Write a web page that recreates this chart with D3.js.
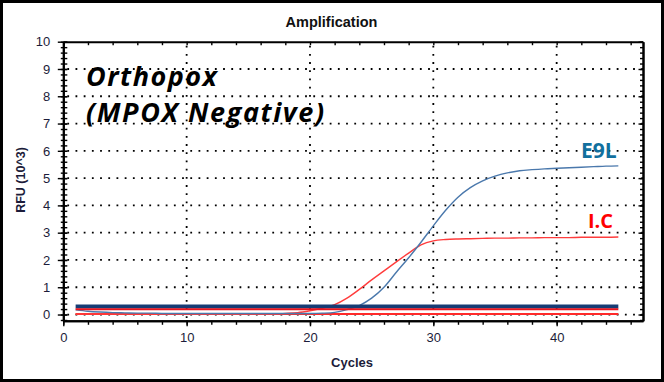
<!DOCTYPE html>
<html>
<head>
<meta charset="utf-8">
<script src="https://cdn.jsdelivr.net/npm/d3@7"></script>
<style>
  html, body { margin: 0; padding: 0; background: #fff; }
  svg { display: block; }
</style>
</head>
<body>
<svg id="chart" width="664" height="382"></svg>
<script>
// ---------------- DATA ----------------
const cycles = [1,2,3,4,5,6,7,8,9,10,11,12,13,14,15,16,17,18,19,20,21,22,23,24,25,26,27,28,29,30,31,32,33,34,35,36,37,38,39,40,41,42,43,44,45];

// E9L (blue amplification curve), RFU x10^3
const e9lValues = [0.17,0.12,0.09,0.07,0.06,0.05,0.05,0.04,0.04,0.04,
                   0.04,0.04,0.04,0.04,0.04,0.04,0.04,0.04,0.04,0.04,
                   0.05,0.08,0.18,0.33,0.60,1.00,1.55,2.08,2.65,3.25,
                   3.82,4.30,4.65,4.90,5.07,5.19,5.27,5.31,5.34,5.36,
                   5.38,5.40,5.42,5.44,5.45];

// I.C (red internal control curve)
const icValues = [0.02,0.02,0.02,0.02,0.02,0.02,0.02,0.02,0.02,0.02,
                  0.02,0.02,0.02,0.02,0.02,0.02,0.02,0.04,0.07,0.14,
                  0.23,0.36,0.60,0.92,1.27,1.60,1.93,2.25,2.55,2.70,
                  2.75,2.77,2.78,2.79,2.80,2.80,2.81,2.81,2.82,2.82,
                  2.82,2.83,2.83,2.83,2.84];

// flat baseline / threshold traces
const navyFlat = [0.29,0.29,0.29,0.29,0.29,0.29,0.29,0.29,0.29,0.29,0.29,0.29,0.29,0.29,0.29,
                  0.29,0.29,0.29,0.29,0.29,0.29,0.29,0.29,0.29,0.29,0.29,0.29,0.29,0.29,0.29,
                  0.29,0.29,0.29,0.29,0.29,0.29,0.29,0.29,0.29,0.29,0.29,0.29,0.29,0.29,0.29];
const redFlatHigh = [0.19,0.19,0.19,0.19,0.19,0.19,0.19,0.19,0.19,0.19,0.19,0.19,0.19,0.19,0.19,
                     0.19,0.19,0.19,0.19,0.19,0.19,0.19,0.19,0.19,0.19,0.19,0.19,0.19,0.19,0.19,
                     0.19,0.19,0.19,0.19,0.19,0.19,0.19,0.19,0.19,0.19,0.19,0.19,0.19,0.19,0.19];
const redFlatLow = [0.02,0.02,0.02,0.02,0.02,0.02,0.02,0.02,0.02,0.02,0.02,0.02,0.02,0.02,0.02,
                    0.02,0.02,0.02,0.02,0.02,0.02,0.02,0.02,0.02,0.02,0.02,0.02,0.02,0.02,0.02,
                    0.02,0.02,0.02,0.02,0.02,0.02,0.02,0.02,0.02,0.02,0.02,0.02,0.02,0.02,0.02];

const xMajorTicks = [0,10,20,30,40];
const xMinorTicks = [0,2,4,6,8,10,12,14,16,18,20,22,24,26,28,30,32,34,36,38,40,42,44,46];
const yMajorTicks = [0,1,2,3,4,5,6,7,8,9,10];
const yMinorTicks = [-0.2,0,0.2,0.4,0.6,0.8,1,1.2,1.4,1.6,1.8,2,2.2,2.4,2.6,2.8,3,3.2,3.4,3.6,3.8,4,4.2,4.4,4.6,4.8,5,5.2,5.4,5.6,5.8,6,6.2,6.4,6.6,6.8,7,7.2,7.4,7.6,7.8,8,8.2,8.4,8.6,8.8,9,9.2,9.4,9.6,9.8,10];
const xGrid = [10,20,30,40];
const yGrid = [0,1,2,3,4,5,6,7,8,9];

const titleText = "Amplification";
const xLabel = "Cycles";
const yLabel = "RFU (10^3)";
const noteLine1 = "Orthopox";
const noteLine2 = "(MPOX Negative)";
const e9lLabel = "E9L";
const icLabel = "I.C";

// ---------------- LAYOUT ----------------
const W = 664, H = 382;
const svg = d3.select("#chart");
const x = d3.scaleLinear().domain([0, 47]).range([63.3, 643]);
const y = d3.scaleLinear().domain([-0.23, 10]).range([320.8, 41.7]);
const tickColor = "#000";
const textColor = "#1c1c3a";

svg.append("rect").attr("x", 0).attr("y", 0).attr("width", W).attr("height", H).attr("fill", "#fff");

// grid
const grid = svg.append("g");
grid.selectAll("line.h").data(yGrid).join("line")
  .attr("x1", x(0) + 4).attr("x2", x(47))
  .attr("y1", d => y(d)).attr("y2", d => y(d))
  .attr("stroke", "#000").attr("stroke-width", 1.8).attr("stroke-dasharray", "1.8,6.4");
grid.selectAll("line.v").data(xGrid).join("line")
  .attr("x1", d => x(d)).attr("x2", d => x(d))
  .attr("y1", y(10) + 4).attr("y2", y(-0.23))
  .attr("stroke", "#000").attr("stroke-width", 1.8).attr("stroke-dasharray", "1.8,6.4");

// curves
const line = d3.line().x(d => x(d[0])).y(d => y(d[1])).curve(d3.curveMonotoneX);
const pairs = vals => cycles.map((c, i) => [c, vals[i]]);

svg.append("path").attr("d", line(pairs(redFlatLow)))
  .attr("fill", "none").attr("stroke", "#ff2a2a").attr("stroke-width", 1.8);
svg.append("path").attr("d", line(pairs(icValues)))
  .attr("fill", "none").attr("stroke", "#ff3c3c").attr("stroke-width", 1.4);
svg.append("path").attr("d", line(pairs(e9lValues)))
  .attr("fill", "none").attr("stroke", "#4a78ac").attr("stroke-width", 1.4);
svg.append("path").attr("d", line(pairs(navyFlat)))
  .attr("fill", "none").attr("stroke", "#173c74").attr("stroke-width", 4);
svg.append("path").attr("d", line(pairs(redFlatHigh)))
  .attr("fill", "none").attr("stroke", "#e8141e").attr("stroke-width", 2);

// axes
function styleAxis(g) {
  g.select(".domain").attr("stroke", tickColor).attr("stroke-width", 2);
  g.selectAll(".tick line").attr("stroke", tickColor).attr("stroke-width", 1.4);
  g.selectAll(".tick text").attr("fill", textColor)
    .style("font-family", "'Liberation Sans', Arial, sans-serif").style("font-size", "13px");
}

// left
const gLeftMinor = svg.append("g").attr("transform", `translate(${x(0)},0)`)
  .call(d3.axisLeft(y).tickValues(yMinorTicks).tickSize(-4).tickSizeOuter(0).tickFormat(""));
gLeftMinor.selectAll(".tick line").attr("x1", -2.5);
styleAxis(gLeftMinor);
const gLeft = svg.append("g").attr("transform", `translate(${x(0)},0)`)
  .call(d3.axisLeft(y).tickValues(yMajorTicks).tickSize(-4).tickSizeOuter(0).tickPadding(13).tickFormat(d3.format("d")));
gLeft.selectAll(".tick line").attr("x1", -5.5);
styleAxis(gLeft);

// right
const gRight = svg.append("g").attr("transform", `translate(${x(47)},0)`)
  .call(d3.axisRight(y).tickValues(yMinorTicks).tickSize(-3).tickSizeOuter(0).tickFormat(""));
styleAxis(gRight);
const gRightMaj = svg.append("g").attr("transform", `translate(${x(47)},0)`)
  .call(d3.axisRight(y).tickValues(yMajorTicks).tickSize(-4.5).tickSizeOuter(0).tickFormat(""));
styleAxis(gRightMaj);

// top
const gTop = svg.append("g").attr("transform", `translate(0,${y(10)})`)
  .call(d3.axisTop(x).tickValues(xMinorTicks).tickSize(-3.5).tickSizeOuter(0).tickFormat(""));
styleAxis(gTop);

// bottom
const gBottomMinor = svg.append("g").attr("transform", `translate(0,${y(-0.23)})`)
  .call(d3.axisBottom(x).tickValues(xMinorTicks).tickSize(4).tickSizeOuter(0).tickFormat(""));
styleAxis(gBottomMinor);
const gBottom = svg.append("g").attr("transform", `translate(0,${y(-0.23)})`)
  .call(d3.axisBottom(x).tickValues(xMajorTicks).tickSize(5.5).tickSizeOuter(0).tickPadding(6).tickFormat(d3.format("d")));
styleAxis(gBottom);

// titles
svg.append("text").attr("x", 331.5).attr("y", 26.7).attr("text-anchor", "middle")
  .style("font-family", "'Liberation Sans', Arial, sans-serif").style("font-size", "14.5px").style("font-weight", "bold")
  .attr("fill", "#111").text(titleText);

svg.append("text").attr("x", 352).attr("y", 366.5).attr("text-anchor", "middle")
  .style("font-family", "'Liberation Sans', Arial, sans-serif").style("font-size", "13px").style("font-weight", "bold")
  .attr("fill", textColor).text(xLabel);

svg.append("text").attr("transform", "translate(24.5,180) rotate(-90)").attr("text-anchor", "middle")
  .style("font-family", "'Liberation Sans', Arial, sans-serif").style("font-size", "12.5px").style("font-weight", "bold")
  .attr("fill", textColor).text(yLabel);

// annotation
const noteFont = "'Open Sans', 'Noto Sans', sans-serif";
svg.append("text").attr("x", 86).attr("y", 86).attr("fill", "#000")
  .style("font-family", noteFont).style("font-size", "27px").style("font-weight", "bold").style("font-style", "italic")
  .style("letter-spacing", "1.5px")
  .text(noteLine1);
svg.append("text").attr("x", 86).attr("y", 121.5).attr("fill", "#000")
  .style("font-family", noteFont).style("font-size", "27px").style("font-weight", "bold").style("font-style", "italic")
  .style("letter-spacing", "1.6px")
  .text(noteLine2);

// series labels
svg.append("text").attr("x", 581).attr("y", 158.3).attr("fill", "#12709e")
  .style("font-family", noteFont).style("font-size", "21px").style("font-weight", "bold")
  .text(e9lLabel);
svg.append("text").attr("x", 588).attr("y", 227.7).attr("fill", "#ff0000")
  .style("font-family", noteFont).style("font-size", "20px").style("font-weight", "bold")
  .text(icLabel);

// outer frame
svg.append("rect").attr("x", 1.5).attr("y", 1.5).attr("width", W - 3).attr("height", H - 3)
  .attr("fill", "none").attr("stroke", "#000").attr("stroke-width", 3);
</script>
</body>
</html>
